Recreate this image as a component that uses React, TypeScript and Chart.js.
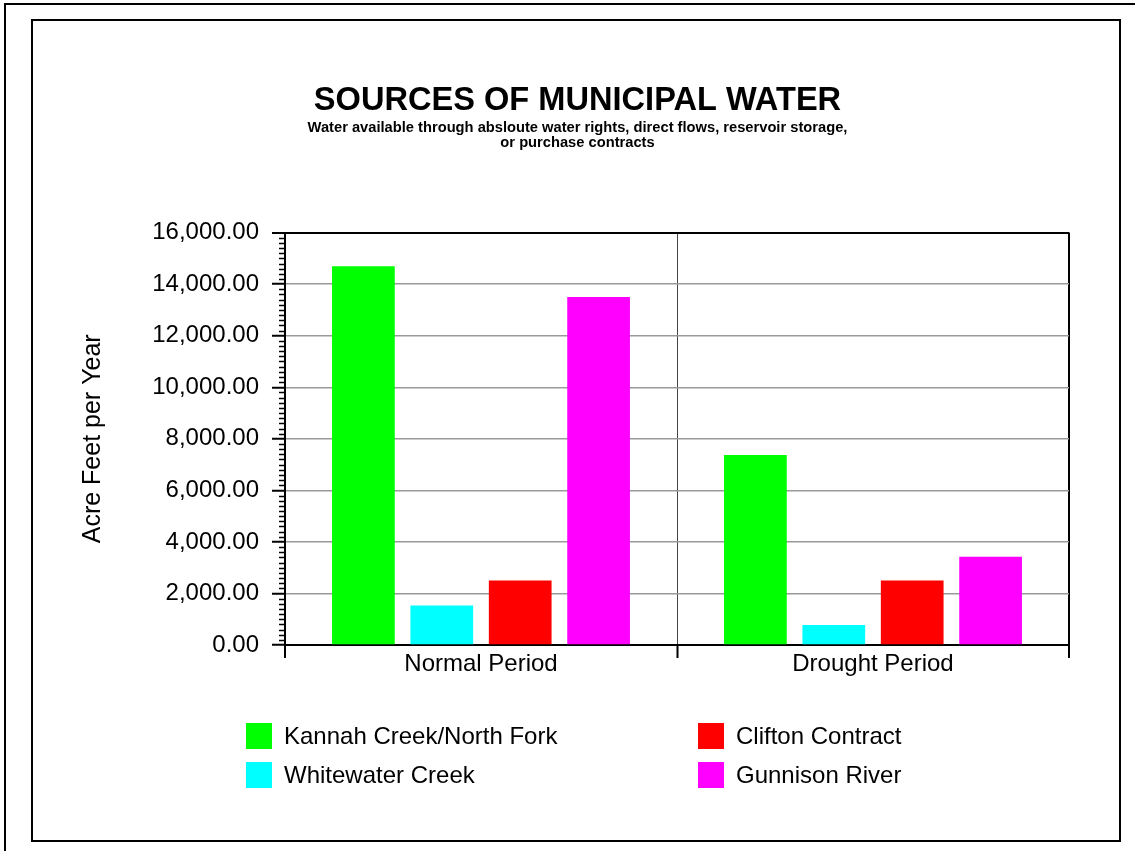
import React, { useEffect, useRef } from "react";
import { Chart, registerables } from "chart.js";

Chart.register(...registerables);

const categories = ["Normal Period", "Drought Period"];
const seriesNames = ["Kannah Creek/North Fork", "Whitewater Creek", "Clifton Contract", "Gunnison River"];
const kannahValues = [14700, 7370];
const whitewaterValues = [1530, 780];
const cliftonValues = [2500, 2500];
const gunnisonValues = [13500, 3420];
const seriesColors = ["#00ff00", "#00ffff", "#ff0000", "#ff00ff"];
const yMin = 0;
const yMax = 16000;
const yStep = 2000;
const yMinorStep = 200;
const titleText = "SOURCES OF MUNICIPAL WATER";
const subtitleLines = [
  "Water available through absloute water rights, direct flows, reservoir storage,",
  "or purchase contracts",
];
const yAxisTitle = "Acre Feet per Year";

const FONT = "'Liberation Sans', Arial, Helvetica, sans-serif";

const minorTicksPlugin = {
  id: "minorTicks",
  afterDraw(chart: any) {
    const y = chart.scales.y;
    const ctx = chart.ctx;
    const left = chart.chartArea.left;
    ctx.save();
    ctx.strokeStyle = "#000";
    ctx.lineWidth = 1.5;
    for (let v = yMin; v <= yMax; v += yMinorStep) {
      if (v % yStep === 0) continue;
      const py = Math.round(y.getPixelForValue(v)) + 0.5;
      ctx.beginPath();
      ctx.moveTo(left - 6, py);
      ctx.lineTo(left, py);
      ctx.stroke();
    }
    ctx.restore();
  },
};

const legendPlugin = {
  id: "gridLegend",
  afterDraw(chart: any) {
    const ctx = chart.ctx;
    const colX = [246, 698];
    const rowY = [723, 762];
    const box = 26;
    ctx.save();
    ctx.font = `24px ${FONT}`;
    ctx.textBaseline = "middle";
    ctx.textAlign = "left";
    chart.data.datasets.forEach((ds: any, i: number) => {
      const col = Math.floor(i / 2);
      const row = i % 2;
      const x = colX[col];
      const yy = rowY[row];
      ctx.fillStyle = ds.backgroundColor;
      ctx.fillRect(x, yy, box, box);
      ctx.fillStyle = "#000";
      ctx.fillText(ds.label, x + 38, yy + box / 2 + 1);
    });
    ctx.restore();
  },
};

export default function App() {
  const canvasRef = useRef<HTMLCanvasElement | null>(null);

  useEffect(() => {
    if (!canvasRef.current) return;
    const valuesList = [kannahValues, whitewaterValues, cliftonValues, gunnisonValues];
    const chart = new Chart(canvasRef.current, {
      type: "bar",
      data: {
        labels: categories,
        datasets: seriesNames.map((name, i) => ({
          label: name,
          data: valuesList[i],
          backgroundColor: seriesColors[i],
          borderWidth: 0,
          categoryPercentage: 0.8,
          barPercentage: 0.8,
        })),
      },
      options: {
        responsive: false,
        animation: false,
        layout: { padding: { top: 81.5, left: 86, right: 66, bottom: 166 } },
        plugins: {
          legend: { display: false },
          tooltip: { enabled: false },
          title: {
            display: true,
            text: titleText,
            color: "#000",
            font: { family: FONT, size: 32.6, weight: "bold", lineHeight: 1.2 },
            padding: { top: 0, bottom: 0 },
          },
          subtitle: {
            display: true,
            text: subtitleLines,
            color: "#000",
            font: { family: FONT, size: 14.7, weight: "bold", lineHeight: "15px" },
            padding: { top: 0, bottom: 82 },
          },
        },
        scales: {
          x: {
            grid: {
              offset: true,
              color: (c: any) => (c.index === 1 ? "#444" : "#000"),
              lineWidth: (c: any) => (c.index === 1 ? 1 : 2),
              tickColor: "#000",
              tickLength: 13,
              tickWidth: 2,
            },
            border: { display: true, color: "#000", width: 2 },
            ticks: {
              color: "#000",
              font: { family: FONT, size: 24 },
              padding: -8.4,
            },
            afterFit: (s: any) => {
              s.height = 40;
            },
          },
          y: {
            min: yMin,
            max: yMax,
            grid: {
              color: (c: any) => (c.tick && c.tick.value === yMax ? "#000" : "#999"),
              lineWidth: (c: any) => (c.tick && c.tick.value === yMax ? 2 : 1.5),
              tickColor: "#000",
              tickLength: 13,
              tickWidth: 2,
            },
            border: { display: true, color: "#000", width: 2 },
            ticks: {
              stepSize: yStep,
              color: "#000",
              padding: 13,
              font: { family: FONT, size: 24 },
              callback: (v: any) =>
                Number(v).toLocaleString("en-US", { minimumFractionDigits: 2, maximumFractionDigits: 2 }),
            },
            title: {
              display: true,
              text: yAxisTitle,
              color: "#000",
              font: { family: FONT, size: 25, lineHeight: 1.2 },
              padding: { top: -8, bottom: 0 },
            },
            afterFit: (s: any) => {
              s.width = 199;
            },
          },
        },
      },
      plugins: [minorTicksPlugin, legendPlugin],
    });
    return () => chart.destroy();
  }, []);

  return (
    <div
      style={{
        position: "absolute",
        left: 0,
        top: 0,
        width: 1135,
        height: 851,
        overflow: "hidden",
        background: "#fff",
      }}
    >
      <div
        style={{
          position: "absolute",
          left: 4,
          top: 3,
          width: 1200,
          height: 900,
          border: "2px solid #000",
        }}
      />
      <div
        style={{
          position: "absolute",
          left: 31,
          top: 19,
          width: 1090,
          height: 823,
          boxSizing: "border-box",
          border: "2px solid #000",
        }}
      />
      <canvas
        ref={canvasRef}
        width={1135}
        height={851}
        style={{ position: "absolute", left: 0, top: 0, width: 1135, height: 851 }}
      />
    </div>
  );
}
